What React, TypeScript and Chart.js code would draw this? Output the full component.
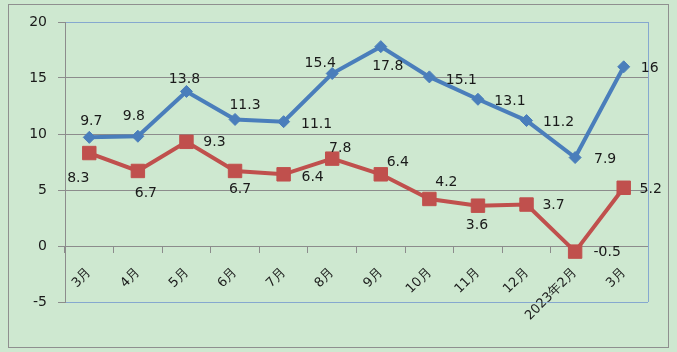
import React, { useEffect, useRef } from "react";
import { Chart, registerables } from "chart.js";

Chart.register(...registerables);

// ---- data ----
const categories = ["3月", "4月", "5月", "6月", "7月", "8月", "9月", "10月", "11月", "12月", "2023年2月", "3月"];
const seriesBlue = [9.7, 9.8, 13.8, 11.3, 11.1, 15.4, 17.8, 15.1, 13.1, 11.2, 7.9, 16];
const seriesRed = [8.3, 6.7, 9.3, 6.7, 6.4, 7.8, 6.4, 4.2, 3.6, 3.7, -0.5, 5.2];
const yMin = -5;
const yMax = 20;
const yStep = 5;

// ---- label placement (layout only, offsets in px from each point) ----
const blueLabelOffsets: [number, number][] = [
  [2, -16], [-4, -20], [-2, -12], [10, -14], [33, 3], [-12, -10],
  [7, 20], [32, 3], [32, 2], [32, 2], [30, 2], [26, 2],
];
const redLabelOffsets: [number, number][] = [
  [-11, 25], [8, 22], [28, 1], [5, 18], [29, 3], [8, -10],
  [17, -12], [17, -17], [-1, 20], [27, 1], [32, 1], [27, 2],
];

const BG = "rgb(206,232,208)";
const GRID = "#8c8c8c";
const FRAME_BLUE = "#86a8cf";
const BLUE = "#4a7ebb";
const RED = "#c0504d";
const FONT = "DejaVu Sans";

const framePlugin = {
  id: "framePlugin",
  beforeDraw(chart: any) {
    const { ctx, width, height } = chart;
    ctx.save();
    ctx.fillStyle = BG;
    ctx.fillRect(0, 0, width, height);
    ctx.strokeStyle = "#8f8f8f";
    ctx.lineWidth = 1;
    ctx.strokeRect(8.5, 4.5, 660, 343);
    ctx.restore();
  },
  beforeDatasetsDraw(chart: any) {
    const { ctx, chartArea } = chart;
    ctx.save();
    ctx.strokeStyle = FRAME_BLUE;
    ctx.lineWidth = 1;
    const x = Math.round(chartArea.right) + 0.5;
    ctx.beginPath();
    ctx.moveTo(x, chartArea.top);
    ctx.lineTo(x, chartArea.bottom);
    ctx.stroke();
    ctx.restore();
  },
};

const labelPlugin = {
  id: "pointLabels",
  afterDatasetsDraw(chart: any) {
    const { ctx } = chart;
    const offsets = [blueLabelOffsets, redLabelOffsets];
    ctx.save();
    ctx.font = `14px "${FONT}"`;
    ctx.fillStyle = "#1a1a1a";
    ctx.textAlign = "center";
    ctx.textBaseline = "middle";
    chart.data.datasets.forEach((ds: any, di: number) => {
      const meta = chart.getDatasetMeta(di);
      meta.data.forEach((pt: any, i: number) => {
        const [dx, dy] = offsets[di][i];
        ctx.fillText(String(ds.data[i]), pt.x + dx, pt.y + dy);
      });
    });
    ctx.restore();
  },
};

export default function App() {
  const ref = useRef<HTMLCanvasElement | null>(null);

  useEffect(() => {
    if (!ref.current) return;
    const chart = new Chart(ref.current, {
      type: "line",
      data: {
        labels: categories,
        datasets: [
          {
            data: seriesBlue,
            borderColor: BLUE,
            backgroundColor: BLUE,
            borderWidth: 4,
            pointStyle: "rectRot",
            pointRadius: 6,
            pointBorderWidth: 1,
            pointBackgroundColor: BLUE,
            pointBorderColor: BLUE,
            tension: 0,
          },
          {
            data: seriesRed,
            borderColor: RED,
            backgroundColor: RED,
            borderWidth: 4,
            pointStyle: "rect",
            pointRadius: 9.5,
            pointBorderWidth: 1,
            pointBackgroundColor: RED,
            pointBorderColor: RED,
            tension: 0,
          },
        ],
      },
      options: {
        responsive: false,
        animation: false,
        devicePixelRatio: 1,
        layout: { padding: { left: 0, top: 22, right: 29, bottom: 50 } },
        plugins: { legend: { display: false }, tooltip: { enabled: false } },
        scales: {
          x: {
            type: "category",
            position: { y: 0 } as any,
            offset: true,
            grid: {
              display: true,
              drawOnChartArea: false,
              drawTicks: true,
              tickLength: 6,
              color: GRID,
              offset: true,
            },
            border: { display: true, color: GRID },
            ticks: {
              autoSkip: false,
              minRotation: 45,
              maxRotation: 45,
              padding: 13,
              color: "#1a1a1a",
              font: { family: FONT, size: 13 },
            },
          },
          y: {
            min: yMin,
            max: yMax,
            afterFit: (scale: any) => {
              scale.width = 65;
            },
            grid: {
              color: (c: any) =>
                c.tick && (c.tick.value === yMax || c.tick.value === yMin) ? FRAME_BLUE : GRID,
              tickColor: GRID,
              tickLength: 7,
            },
            border: { display: true, color: GRID },
            ticks: {
              stepSize: yStep,
              padding: 11,
              color: "#1a1a1a",
              font: { family: FONT, size: 14 },
            },
          },
        },
      },
      plugins: [framePlugin, labelPlugin],
    });
    return () => chart.destroy();
  }, []);

  return (
    <div style={{ position: "fixed", left: 0, top: 0, width: 677, height: 352 }}>
      <canvas ref={ref} width={677} height={352} style={{ display: "block" }} />
    </div>
  );
}
